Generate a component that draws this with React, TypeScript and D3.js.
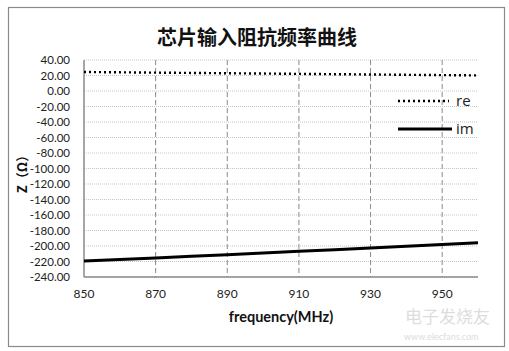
import React from 'react';
import * as d3 from 'd3';

const freqs = [850, 860, 870, 880, 890, 900, 910, 920, 930, 940, 950, 960];
const reValues = [24.5, 24.1, 23.7, 23.3, 22.9, 22.5, 22.1, 21.7, 21.3, 20.9, 20.5, 20.1];
const imValues = [-219.5, -217.5, -215.4, -213.3, -211.2, -209.0, -206.9, -204.7, -202.5, -200.3, -198.1, -195.9];
const xTicks = [850, 870, 890, 910, 930, 950];
const yTicks = [40, 20, 0, -20, -40, -60, -80, -100, -120, -140, -160, -180, -200, -220, -240];

const W = 509;
const H = 351;
const margin = { left: 84, right: 31, top: 60, bottom: 74 };

const App: React.FC = () => {
    const x = d3.scaleLinear().domain([850, 960]).range([margin.left, W - margin.right]);
    const y = d3.scaleLinear().domain([-240, 40]).range([H - margin.bottom, margin.top]);

    const line = d3
        .line<number>()
        .x((_, i) => x(freqs[i]))
        .y(d => y(d));

    const font = 'Lato, "Open Sans", sans-serif';

    return (
        <svg width={W} height={H} style={{ position: 'absolute', left: 0, top: 0, display: 'block' }}>
            <rect x={0} y={0} width={W} height={H} fill="#fff" />
            <rect x={8.5} y={7.5} width={496} height={339} fill="#fff" stroke="#8a8a8a" strokeWidth={1.2} />

            <text x={257} y={45} textAnchor="middle" fontFamily='"Noto Sans CJK SC", sans-serif' fontWeight="bold" fontSize={20} fill="#111">
                芯片输入阻抗频率曲线
            </text>

            {/* horizontal grid */}
            {yTicks.map(t => (
                <line key={'h' + t} x1={margin.left} x2={W - margin.right} y1={y(t)} y2={y(t)}
                    stroke="#b8b8b8" strokeWidth={0.8} strokeDasharray="1,1" />
            ))}
            {/* vertical grid */}
            {xTicks.slice(1).map(t => (
                <line key={'v' + t} x1={x(t)} x2={x(t)} y1={margin.top} y2={H - margin.bottom}
                    stroke="#8a8a8a" strokeWidth={1} strokeDasharray="5,3" />
            ))}

            {/* axes */}
            <line x1={margin.left} x2={margin.left} y1={margin.top} y2={H - margin.bottom} stroke="#8a8a8a" strokeWidth={1.5} />
            <line x1={margin.left} x2={W - margin.right} y1={H - margin.bottom} y2={H - margin.bottom} stroke="#8a8a8a" strokeWidth={1.5} />

            {yTicks.map(t => (
                <text key={'yl' + t} x={70} y={y(t) + 4} textAnchor="end" fontFamily={font} fontSize={11.5} fill="#222">
                    {t.toFixed(2)}
                </text>
            ))}
            {xTicks.map(t => (
                <text key={'xl' + t} x={x(t)} y={298} textAnchor="middle" fontFamily={font} fontSize={12} fill="#222">
                    {t}
                </text>
            ))}

            <text x={281} y={322} textAnchor="middle" fontFamily={font} fontWeight="bold" fontSize={14.5} fill="#111">
                frequency(MHz)
            </text>
            <text transform="translate(27,171) rotate(-90)" textAnchor="middle" fontFamily='"Noto Sans CJK SC", sans-serif' fontWeight="bold" fontSize={13} fill="#111">
                Z（Ω）
            </text>

            {/* series */}
            <path d={line(reValues) || ''} fill="none" stroke="#000" strokeWidth={2.4} strokeDasharray="2,3" />
            <path d={line(imValues) || ''} fill="none" stroke="#000" strokeWidth={3} />

            {/* legend */}
            <line x1={398} x2={449} y1={101} y2={101} stroke="#000" strokeWidth={2.4} strokeDasharray="2,3" />
            <text x={456} y={106} fontFamily='"Open Sans", sans-serif' fontSize={15} fill="#222">re</text>
            <line x1={398} x2={452} y1={129} y2={129} stroke="#000" strokeWidth={3} />
            <text x={456} y={134} fontFamily='"Open Sans", sans-serif' fontSize={15} fill="#222">im</text>

            {/* watermark */}
            <text x={405} y={323} fontFamily='"Noto Sans CJK SC", sans-serif' fontSize={17} fill="#ddd">电子发烧友</text>
            <text x={404} y={340} fontFamily={font} fontSize={9} fill="#ddd">www.elecfans.com</text>
        </svg>
    );
};

export default App;
